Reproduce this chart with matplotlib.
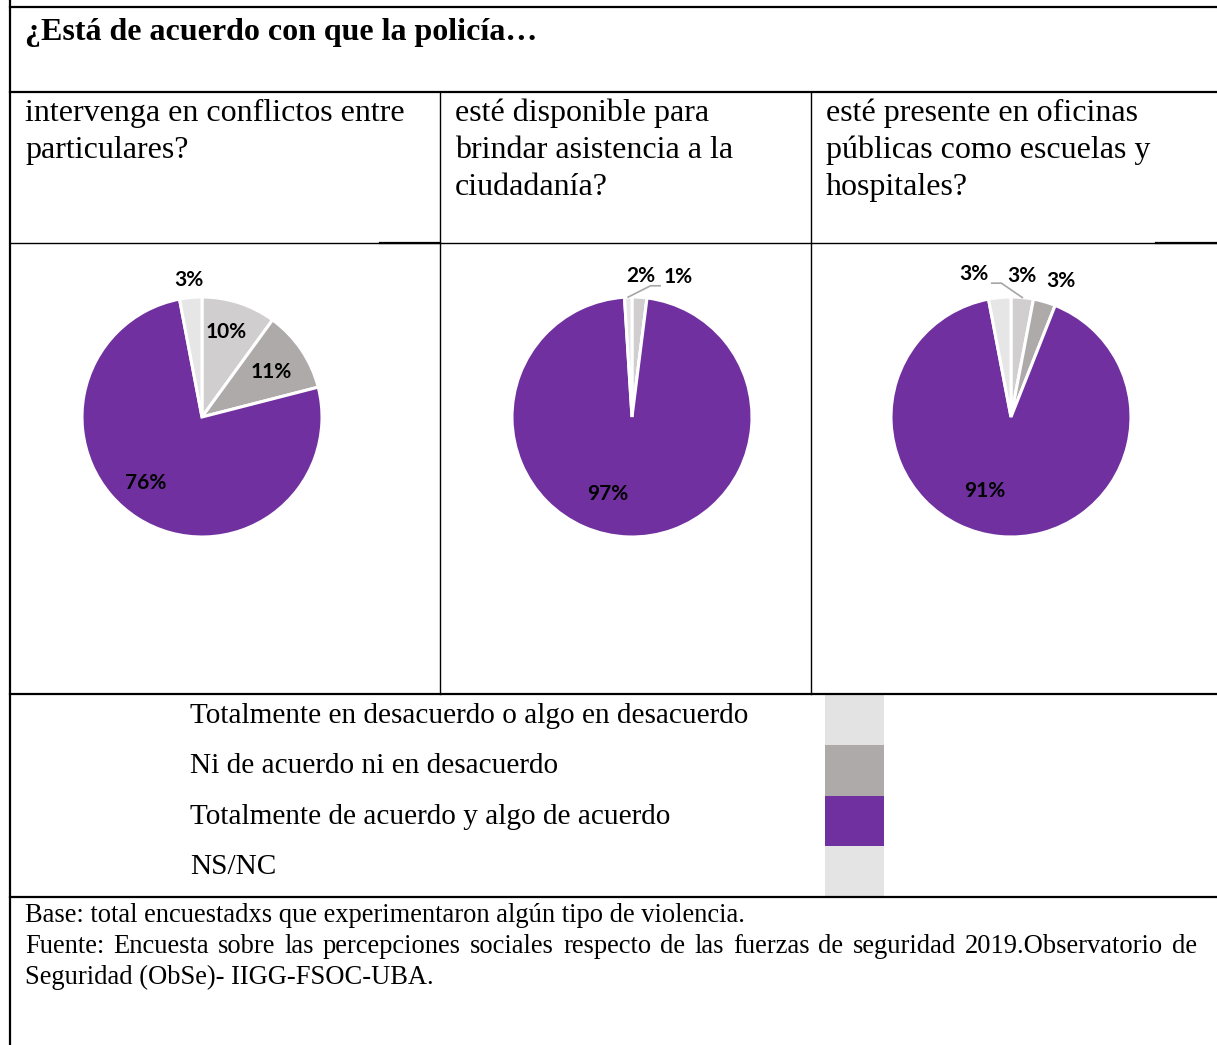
import numpy as np
import matplotlib.pyplot as plt
from matplotlib.patches import Rectangle

W, H = 1217, 1045

title = '¿Está de acuerdo con que la policía…'
questions = [
    ['intervenga en conflictos entre', 'particulares?'],
    ['esté disponible para', 'brindar asistencia a la', 'ciudadanía?'],
    ['esté presente en oficinas', 'públicas como escuelas y', 'hospitales?'],
]
categories = ['Totalmente en desacuerdo o algo en desacuerdo',
              'Ni de acuerdo ni en desacuerdo',
              'Totalmente de acuerdo y algo de acuerdo',
              'NS/NC']

# % per category (same order as categories)
conflictos = [10, 11, 76, 3]
asistencia = [2, 0, 97, 1]
oficinas = [3, 3, 91, 3]

pie_colors = ['#d0cece', '#aeaaaa', '#7030a0', '#e7e6e6']
legend_colors = ['#e3e3e3', '#aeaaaa', '#7030a0', '#e4e4e4']

footer_1 = 'Base: total encuestadxs que experimentaron algún tipo de violencia.'
footer_2 = ('Fuente: Encuesta sobre las percepciones sociales respecto de las '
            'fuerzas de seguridad 2019.Observatorio de')
footer_3 = 'Seguridad (ObSe)- IIGG-FSOC-UBA.'

serif = 'Liberation Serif'

# label placement per wedge: (radius, angle nudge in deg, leader line)
pie_layout = [
    [(0.74, 2, False), (0.69, -1, False), (0.72, -8, False), (1.15, 0, False)],
    [(1.18, 0, False), (1.0, 0, False), (0.67, -16, False), (1.23, -20, True)],
    [(1.23, 20, True), (1.21, -4, False), (0.65, -14, False), (1.18, -10, False)],
]
pie_centers = [(202, 417), (632, 417), (1011, 417)]
text_x = [25, 455, 826]

fig = plt.figure(figsize=(W / 100, H / 100), dpi=100)
bg = fig.add_axes([0, 0, 1, 1])
bg.set_xlim(0, W)
bg.set_ylim(H, 0)
bg.axis('off')

# table lines
thick = 1.6
thin = 1.0
bg.plot([10, 10], [0, H], color='black', lw=thick)
for y in [7, 92, 694, 897]:
    bg.plot([10, W], [y, y], color='black', lw=thick)
bg.plot([10, W], [243, 243], color='black', lw=thin)
bg.plot([380, 440], [243, 243], color='black', lw=thick)
bg.plot([1156, W], [243, 243], color='black', lw=thick)
for x in [440, 811]:
    bg.plot([x, x], [92, 694], color='black', lw=thin)

# title and questions
bg.text(25, 40, title, fontsize=23, fontweight='bold', family=serif, ha='left', va='baseline')
for x, lines in zip(text_x, questions):
    for k, line in enumerate(lines):
        bg.text(x, 121 + 37 * k, line, fontsize=23, family=serif, ha='left', va='baseline')

# legend
for k, (cat, col) in enumerate(zip(categories, legend_colors)):
    y0 = 695 + 50.25 * k
    bg.add_patch(Rectangle((825, y0), 59, 50.25, facecolor=col, edgecolor='none'))
    bg.text(190, y0 + 28, cat, fontsize=21.1, family=serif, ha='left', va='baseline')

# footer
fs_foot = 19.1
bg.text(25, 922, footer_1, fontsize=fs_foot, family=serif, ha='left', va='baseline')
bg.text(25, 984, footer_3, fontsize=fs_foot, family=serif, ha='left', va='baseline')
fig.canvas.draw()
rend = fig.canvas.get_renderer()
words = footer_2.split(' ')
wtexts = [bg.text(0, 953, w, fontsize=fs_foot, family=serif, ha='left', va='baseline') for w in words]
widths = [t.get_window_extent(rend).width for t in wtexts]
gap = (1197 - 25 - sum(widths)) / (len(words) - 1)
xx = 25
for t, wd in zip(wtexts, widths):
    t.set_x(xx)
    xx += wd + gap

# pies
R = 120
half = 160
for (cx, cy), vals, layout in zip(pie_centers, [conflictos, asistencia, oficinas], pie_layout):
    ax = fig.add_axes([(cx - half) / W, 1 - (cy + half) / H, 2 * half / W, 2 * half / H])
    wedges, _ = ax.pie(vals, colors=pie_colors, startangle=90, counterclock=False, radius=1,
                       wedgeprops=dict(edgecolor='white', linewidth=2.2))
    ax.set_xlim(-half / R, half / R)
    ax.set_ylim(-half / R, half / R)
    ax.set_aspect('equal')
    ax.axis('off')
    for w, v, (r, dth, leader) in zip(wedges, vals, layout):
        if v == 0:
            continue
        mid = np.deg2rad((w.theta1 + w.theta2) / 2)
        ang = mid + np.deg2rad(dth)
        lx, ly = r * np.cos(ang), r * np.sin(ang)
        ax.text(lx, ly, f'{v}%', ha='center', va='center', fontsize=15,
                fontweight='bold', family='Lato', color='black')
        if leader:
            wx, wy = np.cos(mid), np.sin(mid)
            side = np.sign(wx - lx)
            ax.plot([wx, lx + side * 0.23, lx + side * 0.15],
                    [wy, ly - 0.075, ly - 0.075], color='#a6a6a6', lw=1.2)

fig.savefig('out.png', dpi=100)
